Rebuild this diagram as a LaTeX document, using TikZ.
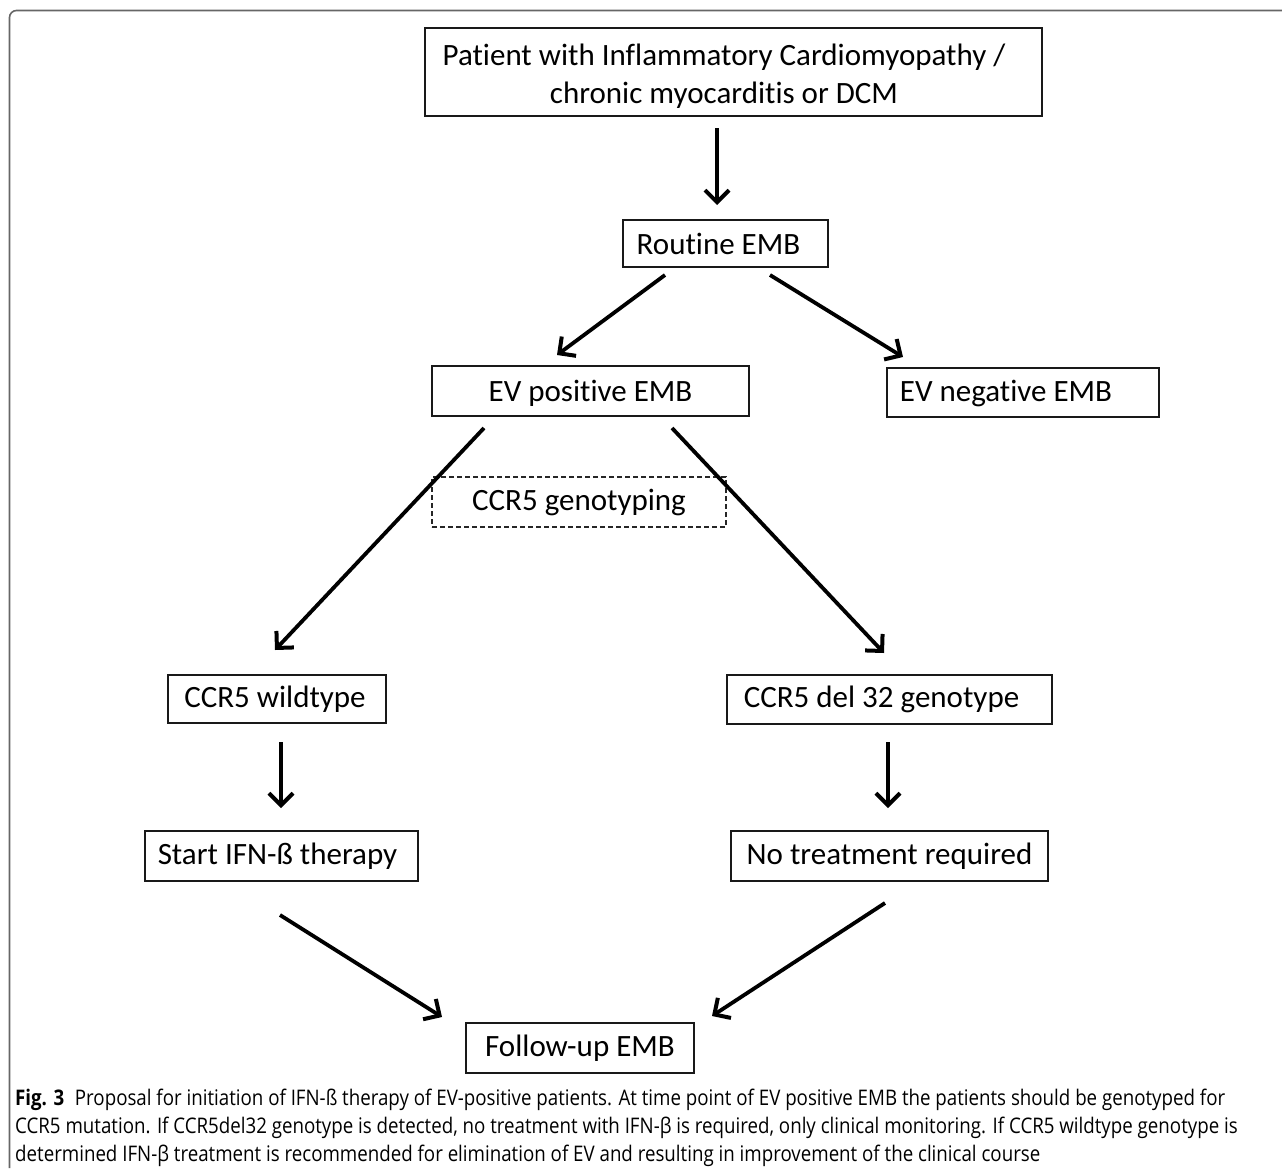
\documentclass[tikz,border=0pt]{standalone}
\usepackage{fontspec}
\setmainfont[RawFeature={-liga}]{Carlito}
\newfontfamily\capfont[FakeStretch=0.87]{Open Sans}
\usetikzlibrary{arrows.meta}
\tikzset{
  box/.style={draw=black!90, line width=1.6pt, inner sep=0pt, align=center,
    font=\fontsize{31}{38}\selectfont},
  dashbox/.style={draw=black!85, line width=1.2pt, dash pattern=on 5pt off 3pt,
    inner sep=0pt, align=center, font=\fontsize{31}{38}\selectfont},
  arr/.style={line width=3.8pt, -{Straight Barb[length=12pt,width=24pt,line width=4pt]}},
}
\newcommand\lsh[1]{\hspace*{-#1pt}}
\newcommand\dn[2]{\raisebox{-#1pt}[\height][\depth]{#2}}
\begin{document}
\begin{tikzpicture}[x=1pt,y=-1pt]
\useasboundingbox (0,0) rectangle (1282,1168);
\draw[black!60, line width=1.6pt, rounded corners=7pt] (9.5,1168) -- (9.5,10.5) -- (1282,10.5);

\node[box, minimum width=617pt, minimum height=88pt] (pat) at (733.5,72) {\lsh{19}\dn{4}{Patient with Inflammatory Cardiomyopathy /}\\\lsh{19}\dn{4}{chronic myocarditis or DCM}};
\node[box, minimum width=205pt, minimum height=47pt] (rout) at (725.5,243.5) {\lsh{14}Routine EMB};
\node[box, minimum width=317pt, minimum height=50pt] (evp) at (590.5,391) {\dn{2}{EV positive EMB}};
\node[box, minimum width=272pt, minimum height=49pt] (evn) at (1023,392.5) {\lsh{34}\dn{1}{EV negative EMB}};
\node[dashbox, minimum width=294pt, minimum height=50pt] (geno) at (579,502) {CCR5 genotyping};
\node[box, minimum width=218pt, minimum height=48pt] (wt) at (277,699) {\lsh{4}CCR5 wildtype};
\node[box, minimum width=325pt, minimum height=49pt] (del) at (889.5,699.5) {\lsh{16}CCR5 del 32 genotype};
\node[box, minimum width=273pt, minimum height=50pt] (ifn) at (281.5,856) {\lsh{8}Start IFN-ß therapy};
\node[box, minimum width=317pt, minimum height=50pt] (notr) at (889.5,856) {No treatment required};
\node[box, minimum width=228pt, minimum height=50pt] (fu) at (580,1048) {Follow-up EMB};

\coordinate (a1s) at (717,128);  \coordinate (a1e) at (717,205);
\coordinate (a2s) at (665,275);  \coordinate (a2e) at (557,355);
\coordinate (a3s) at (770,275);  \coordinate (a3e) at (903,357);
\coordinate (a4s) at (484,428);  \coordinate (a4e) at (275,650);
\coordinate (a5s) at (672,428);  \coordinate (a5e) at (884,653);
\coordinate (a6s) at (281,742);  \coordinate (a6e) at (281,808);
\coordinate (a7s) at (888,742);  \coordinate (a7e) at (888,808);
\coordinate (a8s) at (280,915);  \coordinate (a8e) at (442,1017);
\coordinate (a9s) at (885,903);  \coordinate (a9e) at (712,1016);
\foreach \i in {1,...,9} { \draw[arr] (a\i s) -- (a\i e); }

\node[anchor=north west, align=left, inner sep=0pt, font=\capfont\fontsize{21.5}{28}\selectfont] (cap) at (15,1089)
{\textbf{Fig. 3}\enspace Proposal for initiation of IFN-ß therapy of EV-positive patients. At time point of EV positive EMB the patients should be genotyped for\\
CCR5 mutation. If CCR5del32 genotype is detected, no treatment with IFN-β is required, only clinical monitoring. If CCR5 wildtype genotype is\\
determined IFN-β treatment is recommended for elimination of EV and resulting in improvement of the clinical course};
\end{tikzpicture}
\end{document}
